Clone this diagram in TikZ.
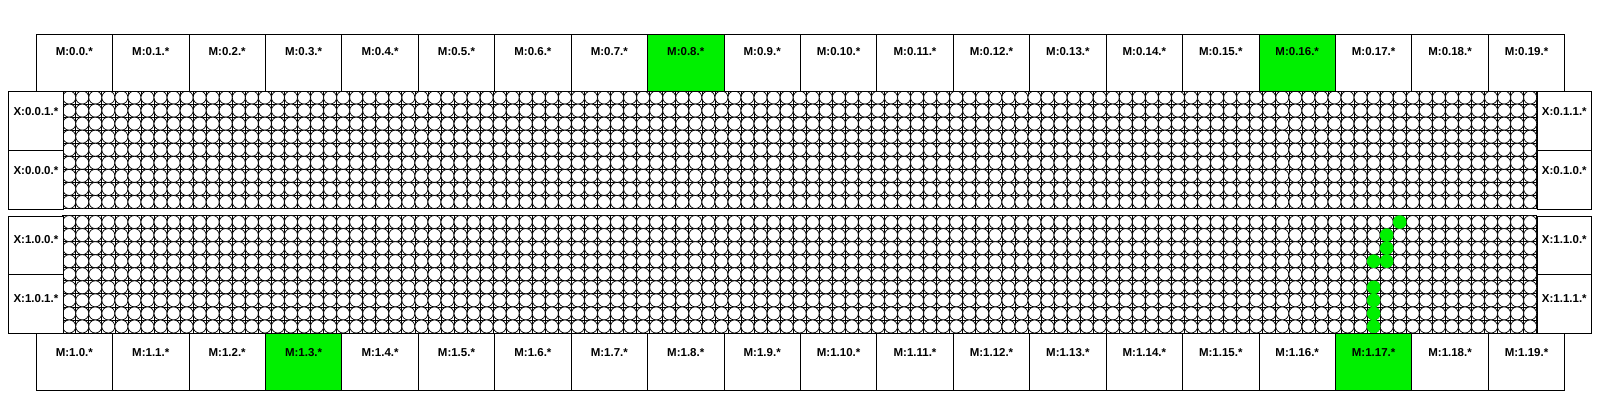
\documentclass[tikz,border=0pt]{standalone}
\usepackage{fontspec}
\setmainfont{Liberation Sans}
\usetikzlibrary{calc,positioning}
\usepackage{xcolor}
\definecolor{hitgreen}{RGB}{0,240,0}
\newcommand{\mw}{76.43}
\newcommand{\cw}{13.044}
\newcommand{\ch}{13.056}
\tikzset{
    msty/.style={draw,fill=white,rectangle,minimum width=\mw pt,minimum height=56.8pt,anchor=north west,inner sep=0pt},
    mhitsty/.style={msty,fill=hitgreen},
    xsty/.style={draw,fill=white,rectangle,minimum width=54.4pt,minimum height=58.75pt,anchor=north west,inner sep=0pt},
    namesty/.style={font=\bfseries\fontsize{11.5}{13}\selectfont,inner sep=0pt},
    cellsty/.style={line width=0.7pt},
    hitsty/.style={fill=hitgreen},
}

\begin{document}
\begin{tikzpicture}[x=1pt,y=-1pt,line width=0.8pt]
\useasboundingbox (0,0) rectangle (1600,400);

% cell grid with circles, two panels
\foreach \py in {91,215.5}{
  \draw[fill=white] (62.7,\py) rectangle (1536.7,\py+117.5);
  \foreach \c in {1,...,112}
    \draw[cellsty] ({62.7+\cw*\c},\py) -- ++(0,117.5);
  \foreach \r in {1,...,8}
    \draw[cellsty] (62.7,{\py+\ch*\r}) -- (1536.7,{\py+\ch*\r});
  \foreach \c in {0,...,112}{
    \foreach \r in {0,...,8}{
      \draw[cellsty,fill=white] ({62.7+\cw*(\c+0.5)},{\py+\ch*(\r+0.5)}) circle [radius=\cw/2];
    }
  }
}
% hits in lower panel
\foreach \c/\r in {102/0,101/1,101/2,100/3,101/3,100/5,100/6,100/7,100/8}{
  \fill[hitsty] ({62.7+\cw*(\c+0.5)},{215.5+\ch*(\r+0.5)}) circle [radius=0.52*\cw];
}

% X boxes
\node[xsty] (x001) at (8.3,91) {};
\node[xsty] (x000) at (8.3,149.75) {};
\node[xsty] (x011) at (1536.7,91) {};
\node[xsty] (x010) at (1536.7,149.75) {};
\node[xsty] (x100) at (8.3,215.5) {};
\node[xsty] (x101) at (8.3,274.25) {};
\node[xsty] (x110) at (1536.7,215.5) {};
\node[xsty] (x111) at (1536.7,274.25) {};
\foreach \n/\t in {x001/X:0.0.1.*,x000/X:0.0.0.*,x011/X:0.1.1.*,x010/X:0.1.0.*}{
  \node[namesty,below=16.5pt of \n.north] (\n-name) {\t};
}
\foreach \n/\t in {x100/X:1.0.0.*,x101/X:1.0.1.*,x110/X:1.1.0.*,x111/X:1.1.1.*}{
  \node[namesty,below=20pt of \n.north] (\n-name) {\t};
}

% M boxes
\foreach \i in {0,...,19}{
  \node[msty] (m0-\i) at ({35.7+\i*\mw},34.3) {};
  \node[namesty,below=12.5pt of m0-\i.north] (m0-\i-name) {M:0.\i.*};
  \node[msty] (m1-\i) at ({35.7+\i*\mw},333) {};
  \node[namesty,below=15pt of m1-\i.north] (m1-\i-name) {M:1.\i.*};
}
% hit M boxes
\foreach \i in {8,16}{
  \node[mhitsty] at (m0-\i.north west) {};
  \node[namesty,below=12.5pt of m0-\i.north] {M:0.\i.*};
}
\foreach \i in {3,17}{
  \node[mhitsty] at (m1-\i.north west) {};
  \node[namesty,below=15pt of m1-\i.north] {M:1.\i.*};
}
\end{tikzpicture}
\end{document}
